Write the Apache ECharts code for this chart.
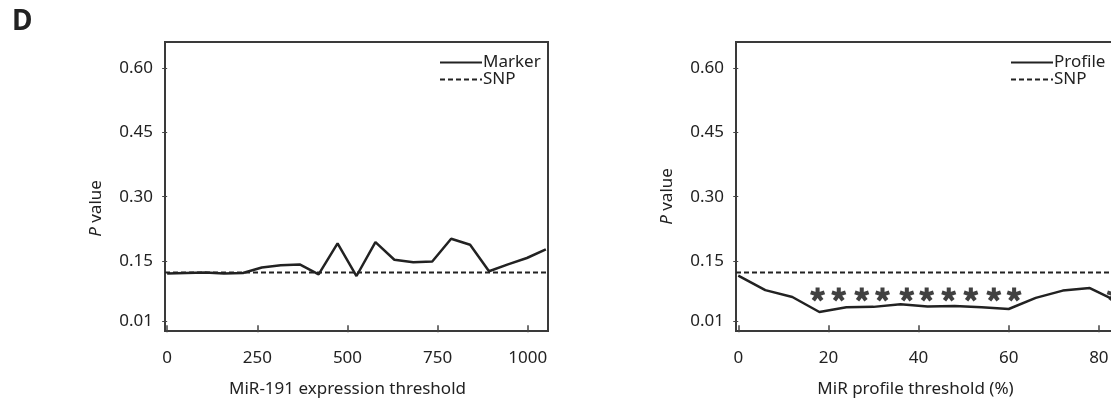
<!DOCTYPE html>
<html>
<head>
<meta charset="utf-8">
<script src="https://cdn.jsdelivr.net/npm/echarts@6/dist/echarts.min.js"></script>
<style>
html, body { margin: 0; padding: 0; background: #fff; }
#main { width: 1111px; height: 406px; }
</style>
</head>
<body>
<div id="main"></div>
<script>
// left panel: MiR-191 expression threshold
var markerX = [0, 52.5, 105, 157.5, 210, 262.5, 315, 367.5, 420, 472.5, 525, 577.5, 630, 682.5, 735, 787.5, 840, 892.5, 945, 997.5, 1050];
var markerP = [0.121, 0.122, 0.123, 0.121, 0.122, 0.135, 0.140, 0.142, 0.119, 0.191, 0.115, 0.194, 0.153, 0.147, 0.149, 0.202, 0.188, 0.126, 0.142, 0.157, 0.177];
// right panel: MiR profile threshold (%)
var profileX = [0, 6, 12, 18, 24, 30, 36, 42, 48, 54, 60, 66, 72, 78, 84];
var profileP = [0.116, 0.082, 0.066, 0.031, 0.042, 0.043, 0.049, 0.044, 0.045, 0.042, 0.038, 0.064, 0.081, 0.087, 0.056];
var snpP = 0.123;
// significance stars
var starX = [17.6, 22.3, 27.4, 32.0, 37.4, 41.8, 46.7, 51.6, 56.7, 61.2, 83.4];
var starY = 0.072;

var yTicks = [0.01, 0.15, 0.30, 0.45, 0.60];
var xTicksA = [0, 250, 500, 750, 1000];
var xTicksB = [0, 20, 40, 60, 80];

var font = 'Noto Sans';
var ink = '#222';
var fs = 17;

function pairs(xs, ys) {
    return xs.map(function (x, i) { return [x, ys[i]]; });
}

// five-armed asterisk shape for the significance marks
function asteriskPath() {
    var d = '', w = 0.28;
    for (var k = 0; k < 5; k++) {
        var a = (-90 + k * 72) * Math.PI / 180;
        var ux = Math.cos(a), uy = Math.sin(a), px = -uy * w, py = ux * w;
        d += 'M' + (px).toFixed(3) + ' ' + (py).toFixed(3) +
             'L' + (ux + px).toFixed(3) + ' ' + (uy + py).toFixed(3) +
             'L' + (ux - px).toFixed(3) + ' ' + (uy - py).toFixed(3) +
             'L' + (-px).toFixed(3) + ' ' + (-py).toFixed(3) + 'Z';
    }
    return 'path://' + d;
}

function yAxisFor(idx, namePad) {
    return {
        type: 'value', gridIndex: idx,
        min: -0.0133, max: 0.661,
        name: '{i|P} value',
        nameLocation: 'middle',
        nameGap: 60,
        nameTextStyle: {
            fontFamily: font, fontSize: fs, color: ink,
            padding: namePad,
            rich: { i: { fontStyle: 'italic', fontFamily: font, fontSize: fs, color: ink } }
        },
        axisLine: { show: false },
        splitLine: { show: false },
        axisTick: { show: true, customValues: yTicks, length: 5, lineStyle: { color: '#444', width: 1 } },
        axisLabel: {
            customValues: yTicks, margin: 12,
            fontFamily: font, fontSize: fs, color: ink,
            formatter: function (v) { return v.toFixed(2); }
        }
    };
}

function xAxisFor(idx, min, max, ticks, name, namePad) {
    return {
        type: 'value', gridIndex: idx,
        min: min, max: max,
        name: name,
        nameLocation: 'middle',
        nameGap: 50,
        nameTextStyle: { fontFamily: font, fontSize: fs, color: ink, padding: namePad },
        axisLine: { show: false },
        splitLine: { show: false },
        axisTick: { show: true, customValues: ticks, length: 7, lineStyle: { color: '#444', width: 1.5 } },
        axisLabel: {
            customValues: ticks, margin: 19, fontFamily: font, fontSize: fs, color: ink,
            formatter: function (v) { return String(v); }
        }
    };
}

var legendBase = {
    orient: 'vertical',
    top: 49,
    itemWidth: 42,
    itemHeight: 14,
    itemGap: 0,
    selectedMode: false,
    itemStyle: { opacity: 0 },
    textStyle: { fontFamily: font, fontSize: fs, color: ink, padding: [0, 0, 0, -4] }
};

var gridBase = {
    top: 42, height: 289, show: true,
    borderColor: '#3a3a3a', borderWidth: 2, backgroundColor: 'transparent',
    outerBoundsMode: 'none', containLabel: false
};

var myChart = echarts.init(document.getElementById('main'));
var option = {
    animation: false,
    backgroundColor: '#fff',
    title: {
        text: 'D', left: 7, top: 3,
        textStyle: { fontFamily: font, fontSize: 28, fontWeight: 'bold', color: ink }
    },
    grid: [
        Object.assign({}, gridBase, { left: 165, width: 383 }),
        Object.assign({}, gridBase, { left: 736, width: 453 })
    ],
    legend: [
        Object.assign({}, legendBase, { left: 434, data: ['Marker', 'SNP'] }),
        Object.assign({}, legendBase, { left: 1005, data: ['Profile', 'SNP'] })
    ],
    xAxis: [
        xAxisFor(0, -6, 1056, xTicksA, 'MiR-191 expression threshold', [0, 18, 0, 0]),
        xAxisFor(1, -0.5, 100, xTicksB, 'MiR profile threshold (%)', [0, 94, 0, 0])
    ],
    yAxis: [
        yAxisFor(0, [0, 44, 0, 0]),
        yAxisFor(1, [0, 20, 0, 0])
    ],
    series: [
        {
            name: 'Marker', type: 'line', xAxisIndex: 0, yAxisIndex: 0,
            data: pairs(markerX, markerP), symbol: 'none',
            lineStyle: { color: ink, width: 2.5 }, itemStyle: { color: ink }
        },
        {
            name: 'SNP', type: 'line', xAxisIndex: 0, yAxisIndex: 0,
            data: [[-6, snpP], [1056, snpP]], symbol: 'none',
            lineStyle: { color: ink, width: 2, type: [5, 3] }, itemStyle: { color: ink }
        },
        {
            name: 'Profile', type: 'line', xAxisIndex: 1, yAxisIndex: 1,
            data: pairs(profileX, profileP), symbol: 'none',
            lineStyle: { color: ink, width: 2.5 }, itemStyle: { color: ink }
        },
        {
            name: 'SNP', type: 'line', xAxisIndex: 1, yAxisIndex: 1,
            data: [[-0.5, snpP], [100, snpP]], symbol: 'none',
            lineStyle: { color: ink, width: 2, type: [5, 3] }, itemStyle: { color: ink }
        },
        {
            name: 'stars', type: 'scatter', xAxisIndex: 1, yAxisIndex: 1,
            data: starX.map(function (x) { return [x, starY]; }),
            symbol: asteriskPath(), symbolSize: [15, 14],
            itemStyle: { color: '#111' },
            silent: true
        }
    ]
};
myChart.setOption(option);
</script>
</body>
</html>
